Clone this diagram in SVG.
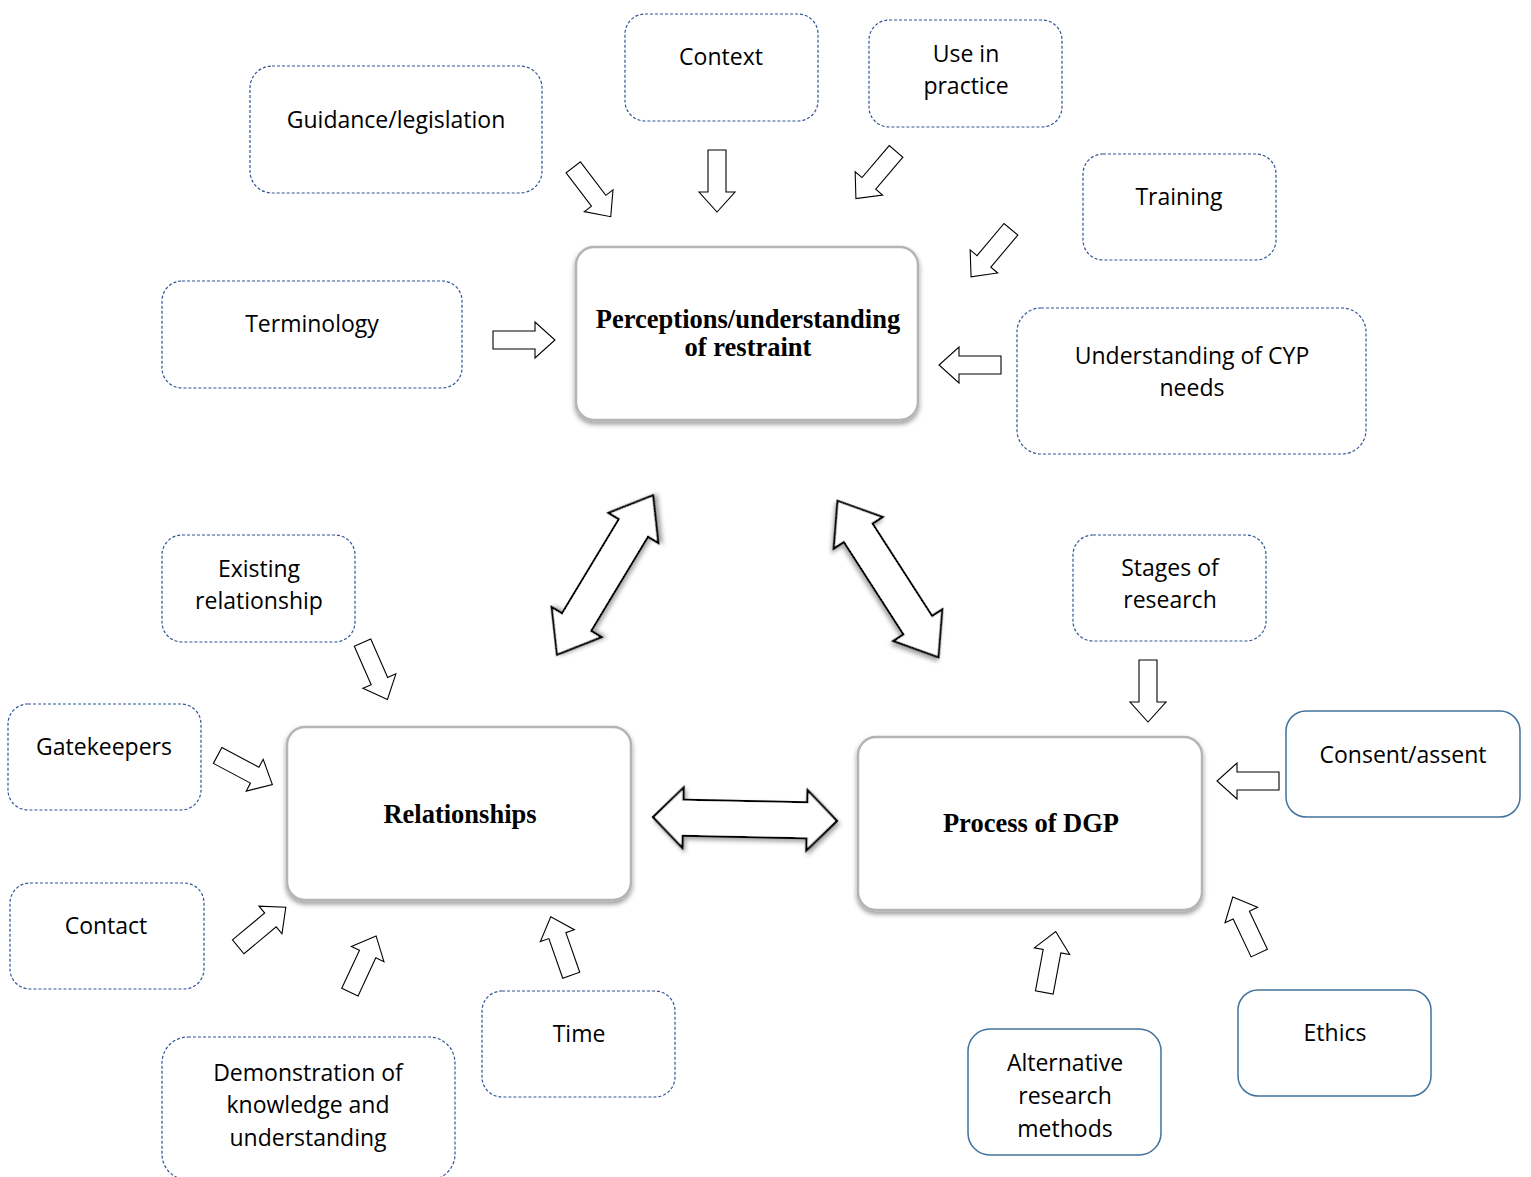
<svg xmlns="http://www.w3.org/2000/svg" width="1531" height="1177" viewBox="0 0 1531 1177">
<style>
.ob{fill:#fff;stroke:#2F5597;stroke-width:1.2;stroke-dasharray:3 2}
.os{fill:#fff;stroke:#41719C;stroke-width:1.5}
.cb{fill:#fff;stroke:#b4b4b4;stroke-width:2.5}
.t{font-family:"Open Sans","Liberation Sans",sans-serif;font-size:23px;fill:#000;text-anchor:middle}
.b{font-family:"Liberation Serif","Times New Roman",serif;font-size:26.5px;font-weight:bold;fill:#000;text-anchor:middle}
.sa{fill:#fff;stroke:#000;stroke-width:1.1}
.da{fill:#fff;stroke:#000;stroke-width:2.2}
</style>
<defs>
<filter id="sh" x="-20%" y="-20%" width="140%" height="150%">
<feDropShadow dx="0" dy="3" stdDeviation="2.5" flood-color="#000" flood-opacity="0.4"/>
</filter>
<filter id="sh2" x="-30%" y="-30%" width="160%" height="160%">
<feDropShadow dx="2" dy="3" stdDeviation="2" flood-color="#000" flood-opacity="0.35"/>
</filter>
<path id="arr" d="M-31,-9 H11 V-18 L31,0 L11,18 V9 H-31 Z"/>
<path id="dbl" d="M-93,0 L-55,-29 V-17 H55 V-29 L93,0 L55,29 V17 H-55 V29 Z"/>
<path id="dblh" d="M-92,0 L-62,-30 V-18 H62 V-30 L92,0 L62,30 V18 H-62 V30 Z"/>
</defs>
<rect width="1531" height="1177" fill="#fff"/>

<g id="connectors">
<use href="#arr" class="sa" transform="translate(592,192) rotate(52.8)"/>
<use href="#arr" class="sa" transform="translate(717,181) rotate(90)"/>
<use href="#arr" class="sa" transform="translate(876,175) rotate(130.4)"/>
<use href="#arr" class="sa" transform="translate(991,253) rotate(130)"/>
<use href="#arr" class="sa" transform="translate(524,340)"/>
<use href="#arr" class="sa" transform="translate(970,365) rotate(180)"/>
<use href="#arr" class="sa" transform="translate(375,671) rotate(66.3)"/>
<use href="#arr" class="sa" transform="translate(245,770) rotate(28)"/>
<use href="#arr" class="sa" transform="translate(262,927) rotate(-39.8)"/>
<use href="#arr" class="sa" transform="translate(363,964) rotate(-65)"/>
<use href="#arr" class="sa" transform="translate(561,946) rotate(-109.3)"/>
<use href="#arr" class="sa" transform="translate(1148,691) rotate(90)"/>
<use href="#arr" class="sa" transform="translate(1248,781) rotate(180)"/>
<use href="#arr" class="sa" transform="translate(1050,962) rotate(-79.4)"/>
<use href="#arr" class="sa" transform="translate(1246,925) rotate(-115.3)"/>
<use href="#dbl" class="da" filter="url(#sh2)" transform="translate(605,575) rotate(-58.9)"/>
<use href="#dbl" class="da" filter="url(#sh2)" transform="translate(888,579) rotate(57.2)"/>
<use href="#dblh" class="da" filter="url(#sh2)" transform="translate(745,819) rotate(1.2)"/>
</g>

<g id="perceptions">
<rect class="cb" filter="url(#sh)" x="576" y="247" width="342" height="173" rx="18"/>
<text class="b" x="748" y="328">Perceptions/understanding</text>
<text class="b" x="748" y="356">of restraint</text>
</g>
<g id="relationships">
<rect class="cb" filter="url(#sh)" x="287" y="727" width="344" height="173" rx="18"/>
<text class="b" x="460" y="823">Relationships</text>
</g>
<g id="process">
<rect class="cb" filter="url(#sh)" x="858" y="737" width="344" height="173" rx="18"/>
<text class="b" x="1031" y="832">Process of DGP</text>
</g>

<g id="guidance">
<rect class="ob" x="250" y="66" width="292" height="127" rx="22"/>
<text class="t" x="396" y="128">Guidance/legislation</text>
</g>
<g id="context">
<rect class="ob" x="625" y="14" width="193" height="107" rx="20"/>
<text class="t" x="721" y="65">Context</text>
</g>
<g id="use-in-practice">
<rect class="ob" x="869" y="20" width="193" height="107" rx="20"/>
<text class="t" x="966" y="62">Use in</text>
<text class="t" x="966" y="94">practice</text>
</g>
<g id="training">
<rect class="ob" x="1083" y="154" width="193" height="106" rx="20"/>
<text class="t" x="1179" y="205">Training</text>
</g>
<g id="terminology">
<rect class="ob" x="162" y="281" width="300" height="107" rx="20"/>
<text class="t" x="312" y="332">Terminology</text>
</g>
<g id="cyp-needs">
<rect class="ob" x="1017" y="308" width="349" height="146" rx="24"/>
<text class="t" x="1192" y="364">Understanding of CYP</text>
<text class="t" x="1192" y="396">needs</text>
</g>
<g id="existing-relationship">
<rect class="ob" x="162" y="535" width="193" height="107" rx="20"/>
<text class="t" x="259" y="577">Existing</text>
<text class="t" x="259" y="609">relationship</text>
</g>
<g id="stages">
<rect class="ob" x="1073" y="535" width="193" height="106" rx="20"/>
<text class="t" x="1170" y="576">Stages of</text>
<text class="t" x="1170" y="608">research</text>
</g>
<g id="gatekeepers">
<rect class="ob" x="8" y="704" width="193" height="106" rx="20"/>
<text class="t" x="104" y="755">Gatekeepers</text>
</g>
<g id="contact">
<rect class="ob" x="10" y="883" width="194" height="106" rx="20"/>
<text class="t" x="106" y="934">Contact</text>
</g>
<g id="demonstration">
<rect class="ob" x="162" y="1037" width="293" height="143" rx="26"/>
<text class="t" x="308" y="1081">Demonstration of</text>
<text class="t" x="308" y="1113">knowledge and</text>
<text class="t" x="308" y="1146">understanding</text>
</g>
<g id="time">
<rect class="ob" x="482" y="991" width="193" height="106" rx="20"/>
<text class="t" x="579" y="1042">Time</text>
</g>
<g id="consent">
<rect class="os" x="1286" y="711" width="234" height="106" rx="20"/>
<text class="t" x="1403" y="763">Consent/assent</text>
</g>
<g id="alternative">
<rect class="os" x="968" y="1029" width="193" height="126" rx="22"/>
<text class="t" x="1065" y="1071">Alternative</text>
<text class="t" x="1065" y="1104">research</text>
<text class="t" x="1065" y="1137">methods</text>
</g>
<g id="ethics">
<rect class="os" x="1238" y="990" width="193" height="106" rx="20"/>
<text class="t" x="1335" y="1041">Ethics</text>
</g>
</svg>
